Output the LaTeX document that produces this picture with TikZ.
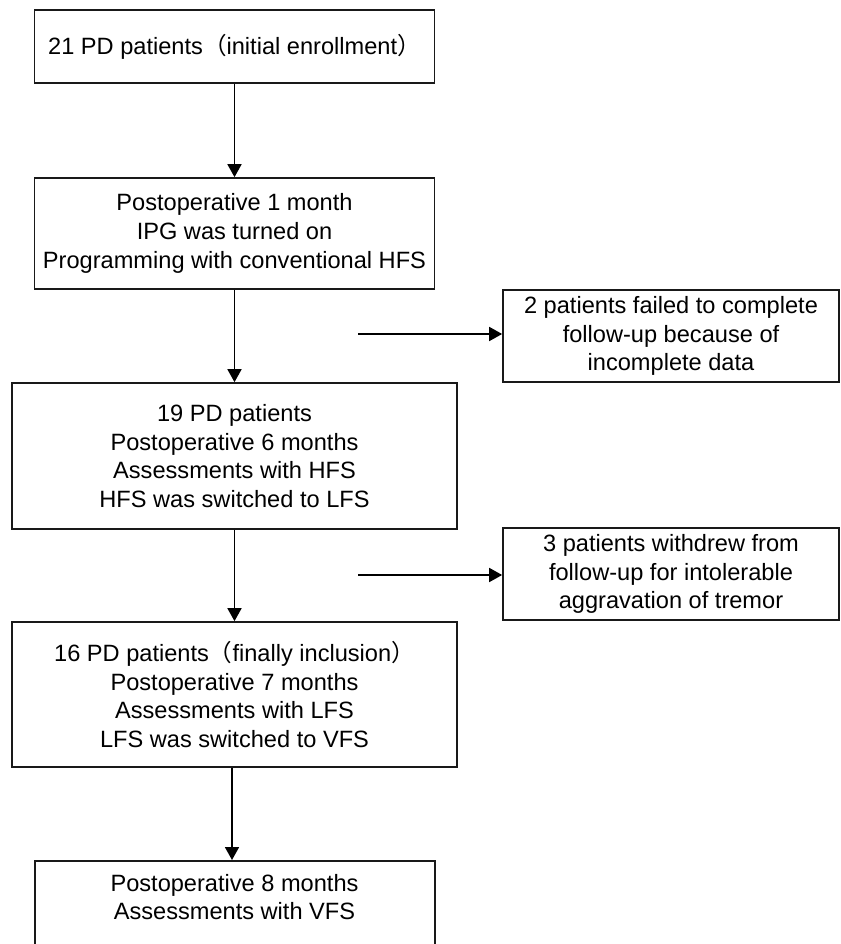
\documentclass[tikz,border=0pt]{standalone}
\usepackage{fontspec}
\setmainfont{Liberation Sans}
\newfontfamily\cjk{Noto Sans CJK SC}
\usetikzlibrary{arrows.meta}
\begin{document}
\begin{tikzpicture}[x=1pt,y=-1pt,
  every node/.style={font=\fontsize{23.6}{28.8}\selectfont},
  boxA/.style={draw=black!90,line width=1.7pt,inner sep=0pt,align=center},
  flow/.style={draw=black,line width=1.8pt,-{Triangle[width=14pt,length=13pt]}}]
\useasboundingbox[fill=white] (0,0) rectangle (840,944);
% main boxes
\node[boxA,minimum width=400pt,minimum height=73pt] (b1) at (234.5,46.5) {};
\node[anchor=west,inner sep=0pt] (b1t) at (48,46.5) {21 PD patients{\cjk （}initial enrollment{\cjk ）}};
\node[boxA,minimum width=400pt,minimum height=111pt] (b2) at (234.5,233.5) {Postoperative 1 month\\IPG was turned on\\Programming with conventional HFS};
\node[boxA,minimum width=445pt,minimum height=146pt] (b3) at (234.5,456) {19 PD patients\\Postoperative 6 months\\Assessments with HFS\\HFS was switched to LFS};
\node[boxA,minimum width=445pt,minimum height=145pt] (b4) at (234.5,694.5) {16 PD patients{\cjk （}finally inclusion{\cjk ）}\\Postoperative 7 months\\Assessments with LFS\\LFS was switched to VFS};
\node[boxA,minimum width=400pt,minimum height=100pt,anchor=north] (b5) at (235,860) {};
\node[align=center,inner sep=0pt] (b5t) at (234.5,897) {Postoperative 8 months\\Assessments with VFS};
% side boxes
\node[boxA,minimum width=336pt,minimum height=92pt] (s1) at (671,336) {2 patients failed to complete\\follow-up because of\\incomplete data};
\node[boxA,minimum width=336pt,minimum height=92pt] (s2) at (671,574) {3 patients withdrew from\\follow-up for intolerable\\aggravation of tremor};
\coordinate (c1) at (358,334);
\coordinate (c2) at (358,575);
% connectors
\draw[flow] (b1.south) -- (b2.north);
\draw[flow] (b2.south) -- (b3.north);
\draw[flow] (b3.south) -- (b4.north);
\draw[flow] ([xshift=-2.5pt]b4.south) -- ([xshift=-3pt]b5.north);
\draw[flow] (c1) -- (c1 -| s1.west);
\draw[flow] (c2) -- (c2 -| s2.west);
\end{tikzpicture}
\end{document}
